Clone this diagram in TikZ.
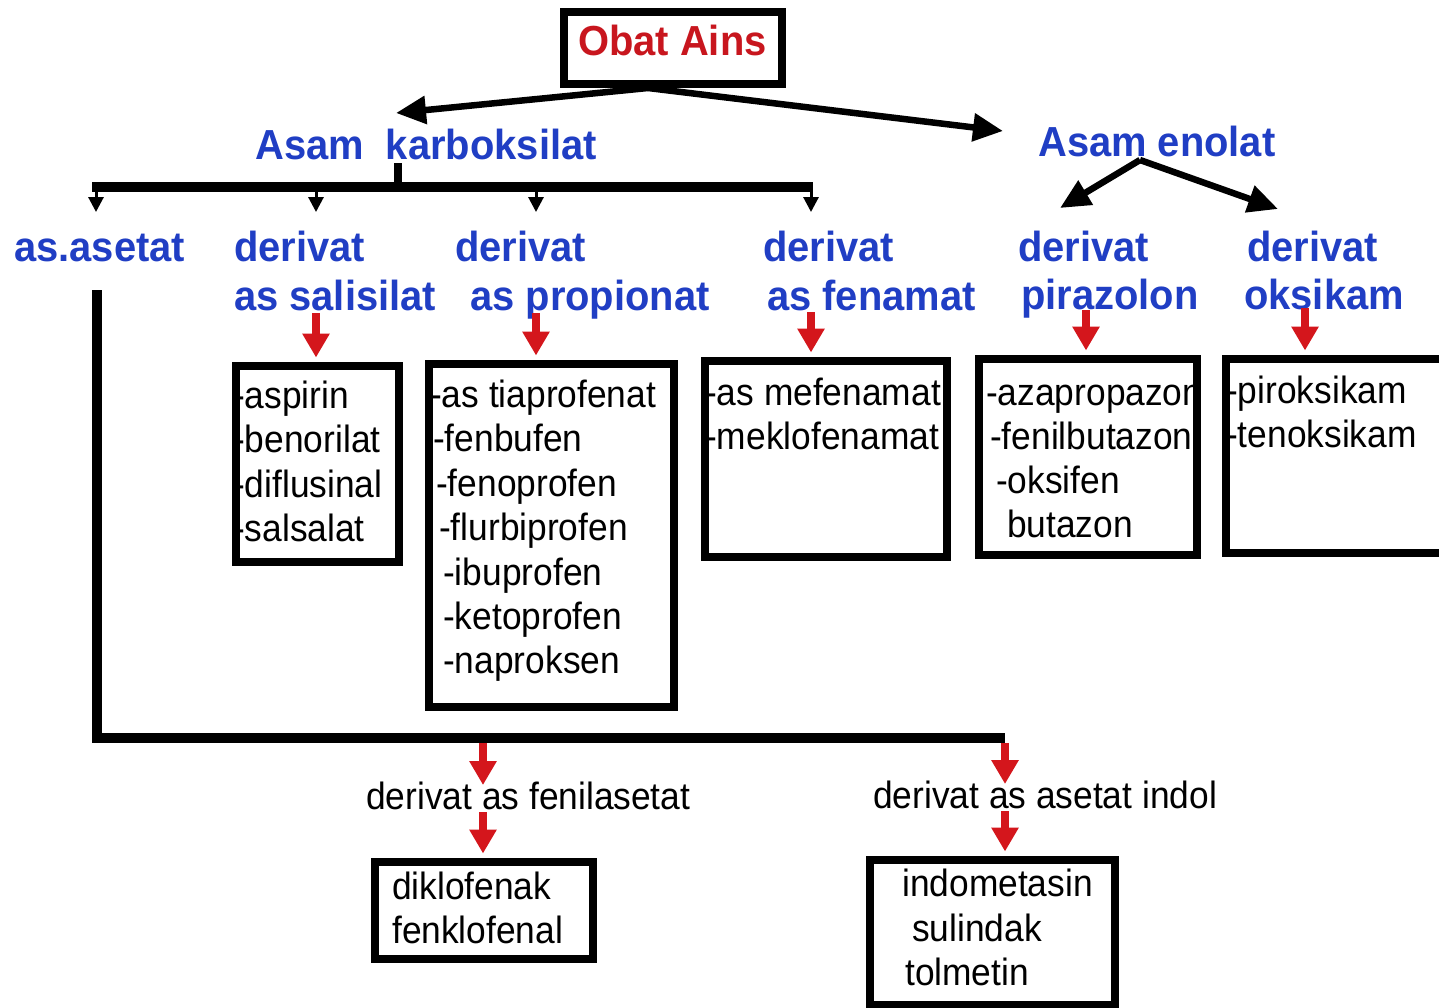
\documentclass[tikz,border=0pt]{standalone}
\usepackage{fontspec}
\setmainfont{Liberation Sans}
\newfontfamily\blkfont[FakeStretch=0.93]{Liberation Sans}
\newfontfamily\blufont[FakeStretch=0.95]{Liberation Sans}
\usetikzlibrary{arrows.meta}
\definecolor{tblue}{RGB}{32,62,196}
\definecolor{tred}{RGB}{200,22,30}
\definecolor{ared}{RGB}{212,22,28}
\begin{document}
\begin{tikzpicture}[x=1pt,y=-1pt,
  blu/.style={text=tblue,font=\blufont\fontsize{42}{48}\selectfont\bfseries,inner sep=0pt,anchor=base west},
  blk/.style={font=\blkfont\fontsize{38}{44}\selectfont,inner sep=0pt,anchor=base west},
  listbox/.style={draw,line width=8pt,inner sep=0pt},
  bigarr/.style={line width=6.5pt,-{Triangle[length=30pt,width=27pt]}},
  smallarr/.style={line width=3pt,-{Triangle[length=15pt,width=15pt]}},
  redarr/.style={draw=ared,line width=8pt,-{Triangle[length=24pt,width=26pt]}},
  thickline/.style={line width=10pt}
]
\useasboundingbox (0,0) rectangle (1439,1007);
\fill[white] (0,0) rectangle (1439,1007);

% ---------- texts ----------
\node[text=tred,font=\blufont\fontsize{42}{48}\selectfont\bfseries,inner sep=0pt,anchor=base west] (obatt) at (578,55) {Obat Ains};
\node[blu] (karb) at (255,159) {Asam\ \ karboksilat};
\node[blu] (enol) at (1038,156) {Asam enolat};

\node[blu] (aset) at (14,261) {as.asetat};
\node[blu] (sal1) at (234,261) {derivat};
\node[blu] (sal2) at (234,310) {as salisilat};
\node[blu] (pro1) at (455,261) {derivat};
\node[blu] (pro2) at (470,310) {as propionat};
\node[blu] (fen1) at (763,261) {derivat};
\node[blu] (fen2) at (767,310) {as fenamat};
\node[blu] (pir1) at (1018,261) {derivat};
\node[blu] (pir2) at (1021,309) {pirazolon};
\node[blu] (oks1) at (1247,261) {derivat};
\node[blu] (oks2) at (1244,309) {oksikam};

\node[blk] (s1) at (233,408) {-aspirin};
\node[blk] (s2) at (233,452) {-benorilat};
\node[blk] (s3) at (233,497) {-diflusinal};
\node[blk] (s4) at (233,541) {-salsalat};

\node[blk] (p1) at (430,407) {-as tiaprofenat};
\node[blk] (p2) at (433,451) {-fenbufen};
\node[blk] (p3) at (436,496) {-fenoprofen};
\node[blk] (p4) at (439,540) {-flurbiprofen};
\node[blk] (p5) at (443,585) {-ibuprofen};
\node[blk] (p6) at (443,629) {-ketoprofen};
\node[blk] (p7) at (443,673) {-naproksen};

\node[blk] (f1) at (705,405) {-as mefenamat};
\node[blk] (f2) at (705,449) {-meklofenamat};

\node[blk] (z1) at (986,405) {-azapropazon};
\node[blk] (z2) at (990,449) {-fenilbutazon};
\node[blk] (z3) at (996,493) {-oksifen};
\node[blk] (z4) at (1007,537) {butazon};

\node[blk] (k1) at (1226,403) {-piroksikam};
\node[blk] (k2) at (1226,447) {-tenoksikam};

\node[blk] (fenil) at (366,809) {derivat as fenilasetat};
\node[blk] (indol) at (873,808) {derivat as asetat indol};

\node[blk] (d1) at (392,899) {diklofenak};
\node[blk] (d2) at (392,943) {fenklofenal};

\node[blk] (i1) at (902,896) {indometasin};
\node[blk] (i2) at (912,941) {sulindak};
\node[blk] (i3) at (905,985) {tolmetin};

% ---------- boxes ----------
\node[draw,line width=8pt,inner sep=0pt,minimum width=218pt,minimum height=72pt] (obat) at (673,48) {};
\node[listbox,minimum width=163pt,minimum height=196pt] (bsal) at (317,463.5) {};
\node[listbox,minimum width=245pt,minimum height=343pt] (bpro) at (551,535) {};
\node[listbox,minimum width=242pt,minimum height=196pt] (bfen) at (825.5,458.5) {};
\node[listbox,minimum width=218pt,minimum height=196pt] (bpir) at (1087.5,456.5) {};
\node[listbox,minimum width=224pt,minimum height=194pt] (boks) at (1337.5,455.5) {};
\node[listbox,minimum width=218pt,minimum height=97pt] (bdik) at (483.5,910) {};
\node[listbox,minimum width=245pt,minimum height=145pt] (bind) at (992,932) {};

% ---------- coordinates ----------
\coordinate (oa) at (648,88);
\coordinate (tkarb) at (396,113);
\coordinate (tenol) at (1003,131);
\coordinate (ea) at (1140,160);
\coordinate (tpir) at (1060,208);
\coordinate (toks) at (1278,209);
\coordinate (stub) at (398,163);
\coordinate (barL) at (92,187);
\coordinate (barR) at (811,187);
\coordinate (ax0) at (96,212);
\coordinate (ax1) at (316,212);
\coordinate (ax2) at (536,212);
\coordinate (ax3) at (811,212);
\coordinate (ax4) at (1086,0);
\coordinate (ax5) at (1305,0);
\coordinate (astop) at (97,290);
\coordinate (ascorner) at (97,738);
\coordinate (asend) at (1005,738);
\coordinate (bx1) at (483,0);

% ---------- connectors ----------
\draw[bigarr] (oa) -- (tkarb);
\draw[bigarr] (oa) -- (tenol);
\draw[bigarr] (ea) -- (tpir);
\draw[bigarr] (ea) -- (toks);

\draw[line width=8pt] (stub) -- (stub |- barL);
\draw[thickline] (barL) -- (barR);
\draw[smallarr] (ax0 |- barL) -- (ax0);
\draw[smallarr] (ax1 |- barL) -- (ax1);
\draw[smallarr] (ax2 |- barL) -- (ax2);
\draw[smallarr] ([yshift=5pt]barR) -- (ax3);

\draw[thickline,line join=miter] (astop) -- (ascorner) -- (asend);

\draw[redarr] ([yshift=-3pt]ax1 |- sal2.base) -- ([yshift=4pt]ax1 |- bsal.north);
\draw[redarr] ([yshift=-3pt]ax2 |- pro2.base) -- ([yshift=4pt]ax2 |- bpro.north);
\draw[redarr] ([yshift=-2pt]ax3 |- fen2.base) -- ([yshift=4pt]ax3 |- bfen.north);
\draw[redarr] ([yshift=-1pt]ax4 |- pir2.base) -- ([yshift=4pt]ax4 |- bpir.north);
\draw[redarr] ([yshift=1pt]ax5 |- oks2.base) -- ([yshift=4pt]ax5 |- boks.north);

\draw[redarr] ([yshift=-5pt]bx1 |- ascorner) -- ([yshift=24pt]bx1 |- fenil.base);
\draw[redarr] ([yshift=-3pt]bx1 |- fenil.base) -- ([yshift=4pt]bx1 |- bdik.north);
\draw[redarr] ([yshift=-5pt]asend) -- ([yshift=24pt]asend |- indol.base);
\draw[redarr] ([yshift=-3pt]asend |- indol.base) -- ([yshift=4pt]asend |- bind.north);
\end{tikzpicture}
\end{document}
